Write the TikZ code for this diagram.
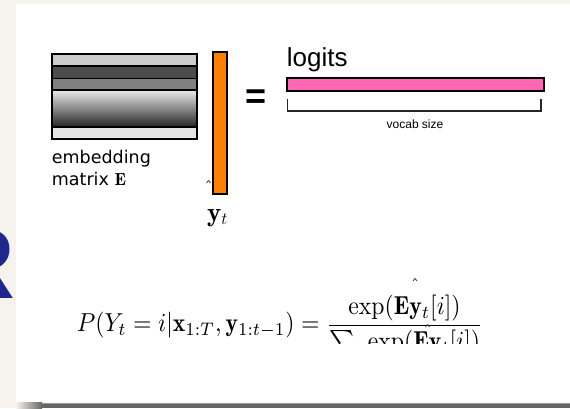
\documentclass[tikz,border=0pt]{standalone}
\usepackage{amsmath}
\usepackage{fontspec}
\setsansfont{Liberation Sans}
\newfontfamily\dejavu{DejaVu Sans}
\usetikzlibrary{positioning}
\definecolor{slidebg}{RGB}{246,243,237}
\definecolor{bandgray}{RGB}{102,102,102}
\definecolor{rblue}{RGB}{30,40,140}
\definecolor{vecorange}{RGB}{255,128,0}
\definecolor{logitpink}{RGB}{255,102,180}
\tikzset{
  rowbox/.style   = {draw=black, line width=1.6pt},
  vecbar/.style   = {draw=black, line width=1.8pt, inner sep=0pt, fill=vecorange},
  barbox/.style   = {draw=black, line width=1.8pt, inner sep=0pt, fill=logitpink},
  lbl/.style      = {inner sep=0pt, anchor=base west},
  hatmark/.style  = {inner sep=0pt, text=black!75, font=\dejavu\fontsize{16}{16}\selectfont},
  bracket/.style  = {draw=black!85, line width=1.6pt}
}

\begin{document}
\begin{tikzpicture}[x=1pt, y=-1pt]
\useasboundingbox (0,0) rectangle (570,408);
% slide
\fill[slidebg] (0,0) rectangle (570,408);
\node[inner sep=0pt, anchor=base east, text=rblue,
      font=\sffamily\bfseries\fontsize{101}{101}\selectfont] (bigR) at (16,298) {R};
\fill[white] (16,3.7) rectangle (570,402.5);
\shade[left color=slidebg, right color=bandgray] (16,402.5) rectangle (42,408);
\fill[bandgray] (42,402.5) rectangle (570,408);
\draw[black!40, line width=0.8pt] (42,403) -- (570,403);

% embedding matrix
\foreach \ya/\yb/\c in {54/65.7/black!20, 65.7/78.3/black!70, 78.3/90/black!50, 126.7/139/black!10}
  \draw[rowbox, fill=\c] (51.7,\ya) rectangle (196.7,\yb);
\shade[top color=black!8, bottom color=black!85] (51.7,90) rectangle (196.7,126.7);
\draw[rowbox] (51.7,90) rectangle (196.7,126.7);

\node[lbl, font=\dejavu\fontsize{17.5}{21}\selectfont] (embtxt) at (51.7,163.3) {embedding};
\node[lbl, font=\dejavu\fontsize{17.5}{21}\selectfont] (mattxt) at (51.7,185) {matrix $\mathbf{E}$};

% y_t vector
\node[vecbar, minimum width=14pt, minimum height=142.6pt] (yvec) at (219.7,123) {};
\node[hatmark] (yhat) at (208.5,187) {ˆ};
\node[inner sep=0pt, anchor=base, font=\fontsize{27}{30}\selectfont] (ylab) at (217.5,221) {$\mathbf{y}_t$};

\node[inner sep=0pt, anchor=base, font=\sffamily\bfseries\fontsize{36}{40}\selectfont] (eq) at (256.3,108.6) {=};

% logits
\node[barbox, minimum width=257.3pt, minimum height=12.7pt] (logitbar) at (415.35,84.65) {};
\node[lbl, font=\sffamily\fontsize{26}{30}\selectfont] (logitlab) at (286.7,66) {logits};
\draw[bracket] (287.3,99) -- (287.3,111) -- (541,111) -- (541,99);
\node[inner sep=0pt, anchor=base, font=\sffamily\fontsize{12}{14}\selectfont] (vocab) at (415,128) {vocab size};

% softmax
\begin{scope}
\clip (0,0) rectangle (570,343);
\node[lbl] (prob) at (76.7,331.7)
  {\resizebox{406pt}{37pt}{$\displaystyle P(Y_t = i|\mathbf{x}_{1:T},\mathbf{y}_{1:t-1}) =
    \frac{\exp(\mathbf{E}\mathbf{y}_t[i])}{\sum_j \exp(\mathbf{E}\mathbf{y}_t[i])}$}};
\end{scope}
\node[hatmark] (numhat) at (415,285) {ˆ};
\node[hatmark] (denhat) at (427.7,331) {ˆ};
\end{tikzpicture}
\end{document}
